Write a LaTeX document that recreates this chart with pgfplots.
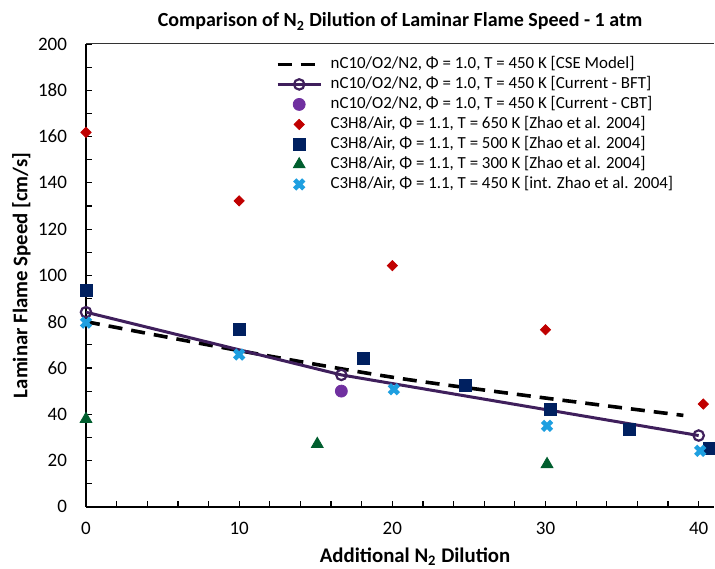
\documentclass[border=0pt]{standalone}
\usepackage{pgfplots}
\pgfplotsset{compat=1.18}
\usepackage{fontspec}
\setmainfont{Carlito}
\usetikzlibrary{calc}

\definecolor{bftpurple}{HTML}{3F1F5C}
\definecolor{cbtpurple}{HTML}{7030A0}
\definecolor{zred}{HTML}{C00000}
\definecolor{znavy}{HTML}{002060}
\definecolor{zgreen}{HTML}{005E2E}
\definecolor{zcyan}{HTML}{1E9FE0}

\begin{document}
\begin{tikzpicture}
\begin{axis}[
    scale only axis,
    width=314pt, height=231.4pt,
    xmin=0, xmax=41, ymin=0, ymax=200,
    xtick={0,10,...,40}, ytick={0,20,...,200},
    minor x tick num=4, minor y tick num=1,
    axis x line*=bottom, axis y line*=left,
    axis line style={-, line width=1pt},
    tick style={black, line width=0.6pt},
    major tick length=3pt, minor tick length=3pt,
    tick align=inside,
    /pgf/number format/assume math mode=true,
    ticklabel style={font=\fontsize{9.5}{11}\selectfont},
    xticklabel style={yshift=-4pt},
    yticklabel style={xshift=-6pt},
    title={\textbf{Comparison of N\textsubscript{2} Dilution of Laminar Flame Speed - 1 atm}},
    title style={font=\fontsize{10}{12}\selectfont, at={(axis description cs:0.5,1)}, anchor=base, yshift=2.5pt},
    xlabel={\textbf{Additional N\textsubscript{2} Dilution}},
    xlabel style={font=\fontsize{10.4}{12}\selectfont, at={(axis description cs:0.524,-0.108)}, anchor=center},
    ylabel={\textbf{Laminar Flame Speed [cm/s]}},
    ylabel style={font=\fontsize{10.4}{12}\selectfont, at={(axis description cs:-0.103,0.5)}, anchor=center},
    legend style={draw=none, fill=none, at={(0.292,0.987)}, anchor=north west,
        font=\fontsize{8.45}{10}\selectfont, row sep=0pt,
        nodes={inner sep=0.5pt, text height=6.5pt, text depth=2.5pt},
        /tikz/every odd column/.append style={column sep=3.5pt}},
    legend cell align=left,
    legend image code/.code={\draw[mark repeat=2,mark phase=2,#1] plot coordinates {(0cm,0cm) (0.38cm,0cm) (0.76cm,0cm)};},
]
\coordinate (ll) at (rel axis cs:0,0);
\coordinate (ur) at (rel axis cs:1,1);
\draw[line width=0.5pt, black!80] (rel axis cs:0,1) -- (rel axis cs:1,1);

\addplot[black, line width=1.8pt, dash pattern=on 7pt off 4.5pt, smooth, no marks]
  coordinates {(0,80) (10,67.5) (20,56) (30,47) (39,39.5)};
\addlegendentry{nC10/O2/N2, Φ = 1.0, T = 450 K [CSE Model]}

\addplot[bftpurple, line width=1.5pt, mark=o, mark size=2.6pt, mark options={line width=1.1pt, fill=white}]
  coordinates {(0,84.1) (16.67,57) (40,30.8)};
\addlegendentry{nC10/O2/N2, Φ = 1.0, T = 450 K [Current - BFT]}

\addplot[only marks, cbtpurple, mark=*, mark size=3pt]
  coordinates {(16.67,50)};
\addlegendentry{nC10/O2/N2, Φ = 1.0, T = 450 K [Current - CBT]}

\addplot[only marks, zred, mark=square*, mark size=1.8pt, mark options={rotate=45}]
  coordinates {(0,161.8) (10,132.2) (20,104.2) (30,76.5) (40.3,44.4)};
\addlegendentry{C3H8/Air, Φ = 1.1, T = 650 K [Zhao et al. 2004]}

\addplot[only marks, znavy, mark=square*, mark size=3pt]
  coordinates {(0,93.6) (10,76.5) (18.1,64.2) (24.8,52.6) (30.3,41.9) (35.5,33.6) (40.7,25.2)};
\addlegendentry{C3H8/Air, Φ = 1.1, T = 500 K [Zhao et al. 2004]}

\addplot[only marks, zgreen, mark=triangle*, mark size=3.4pt]
  coordinates {(0,37.9) (15.1,27.1) (30.1,18.4)};
\addlegendentry{C3H8/Air, Φ = 1.1, T = 300 K [Zhao et al. 2004]}

\addplot[only marks, zcyan, mark=x, mark size=3.2pt, mark options={line width=2.3pt}]
  coordinates {(0,79.6) (10,65.8) (20.1,50.8) (30.1,35) (40.1,24.2)};
\addlegendentry{C3H8/Air, Φ = 1.1, T = 450 K [int. Zhao et al. 2004]}
\end{axis}
\pgfresetboundingbox
\path ($(ll)+(-43pt,-30.65pt)$) rectangle ($(ur)+(0.5pt,22pt)$);
\end{tikzpicture}
\end{document}
